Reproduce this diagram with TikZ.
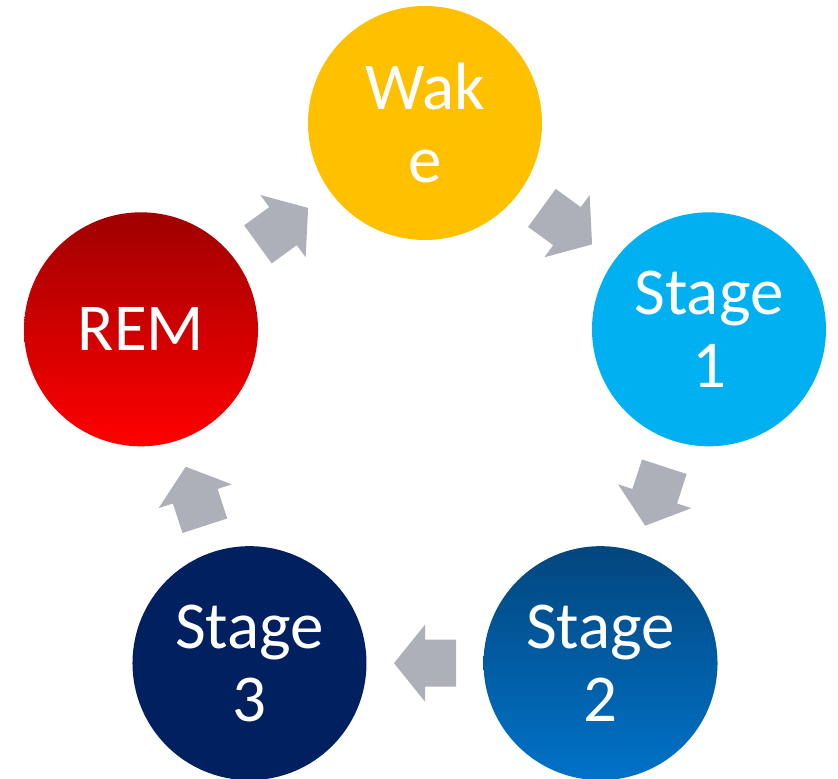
\documentclass[tikz,border=0pt]{standalone}
\usepackage{fontspec}
\setmainfont{Carlito}
\usetikzlibrary{calc}
\definecolor{wakeyel}{RGB}{255,192,0}
\definecolor{stageone}{RGB}{0,176,240}
\definecolor{stagetwotop}{RGB}{3,70,126}
\definecolor{stagetwobot}{RGB}{0,114,200}
\definecolor{stagethree}{RGB}{0,32,96}
\definecolor{remtop}{RGB}{160,0,0}
\definecolor{rembot}{RGB}{255,0,0}
\definecolor{arrowgray}{RGB}{173,176,184}
\tikzset{
  phase/.style={circle, draw=none, minimum size=234pt, inner sep=0pt,
    text=white, align=center, font=\fontsize{67}{73}\selectfont},
  cyclearrow/.style={fill=arrowgray, draw=none}
}
\newcommand\cycarrow[3]{%
  \begin{scope}[shift={($(#1)!0.5!(#2)$)}, rotate=#3]
    \fill[cyclearrow] (-31,23.5) -- (0,23.5) -- (0,38.5) -- (31,0)
      -- (0,-38.5) -- (0,-23.5) -- (-31,-23.5) -- cycle;
  \end{scope}}
\begin{document}
\begin{tikzpicture}[x=1pt, y=1pt]
\useasboundingbox (0,0) rectangle (838,779);
\coordinate (ctr) at (425,357.4);
\node[phase, fill=wakeyel] (wake) at ($(ctr)+(90:298.6)$) {Wak\\e};
\node[phase, fill=stageone] (s1) at ($(ctr)+(18:298.6)$) {Stage\\1};
\node[phase, top color=stagetwotop, bottom color=stagetwobot] (s2) at ($(ctr)+(-54:298.6)$) {Stage\\2};
\node[phase, fill=stagethree] (s3) at ($(ctr)+(-126:298.6)$) {Stage\\3};
\node[phase, top color=remtop, bottom color=rembot] (rem) at ($(ctr)+(162:298.6)$) {REM};
\cycarrow{rem}{wake}{36}
\cycarrow{wake}{s1}{-36}
\cycarrow{s1}{s2}{-108}
\cycarrow{s2}{s3}{180}
\cycarrow{s3}{rem}{108}
\end{tikzpicture}
\end{document}
